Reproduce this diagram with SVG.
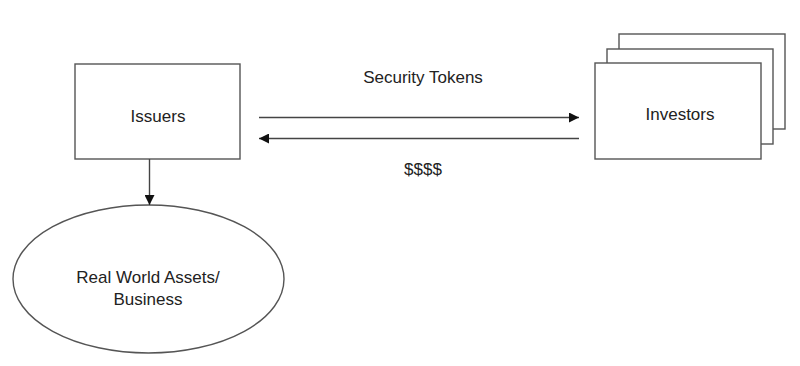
<svg xmlns="http://www.w3.org/2000/svg" width="800" height="366" viewBox="0 0 800 366">
<style>
.box{fill:#fff;stroke:#555;stroke-width:1.4}
.lbl{font-family:"Liberation Sans",Arial,sans-serif;font-size:17px;fill:#222;text-anchor:middle}
.conn{stroke:#444;stroke-width:1.4;fill:none}
</style>
<defs>
<marker id="ah" viewBox="0 0 10 10" refX="10" refY="5" markerWidth="10" markerHeight="10" markerUnits="userSpaceOnUse" orient="auto">
<path d="M0,0 L10,5 L0,10 z" fill="#111"/>
</marker>
</defs>
<rect width="800" height="366" fill="#fff"/>
<g id="issuers">
<rect class="box" x="75" y="64" width="165" height="95"/>
<text class="lbl" x="158" y="122">Issuers</text>
</g>
<g id="investors">
<rect class="box" x="619" y="34" width="166" height="95"/>
<rect class="box" x="607" y="49" width="166" height="95"/>
<rect class="box" x="595" y="63" width="166" height="96"/>
<text class="lbl" x="680" y="120">Investors</text>
</g>
<g id="assets">
<ellipse class="box" cx="148.5" cy="279" rx="135.5" ry="74"/>
<text class="lbl" x="148" y="283">Real World Assets/</text>
<text class="lbl" x="148" y="305">Business</text>
</g>
<g id="connectors">
<line class="conn" x1="259" y1="117.5" x2="579" y2="117.5" marker-end="url(#ah)"/>
<line class="conn" x1="579" y1="138.5" x2="259" y2="138.5" marker-end="url(#ah)"/>
<line class="conn" x1="149.5" y1="159" x2="149.5" y2="205" marker-end="url(#ah)"/>
<text class="lbl" x="423" y="83">Security Tokens</text>
<text class="lbl" x="423" y="175">$$$$</text>
</g>
</svg>
